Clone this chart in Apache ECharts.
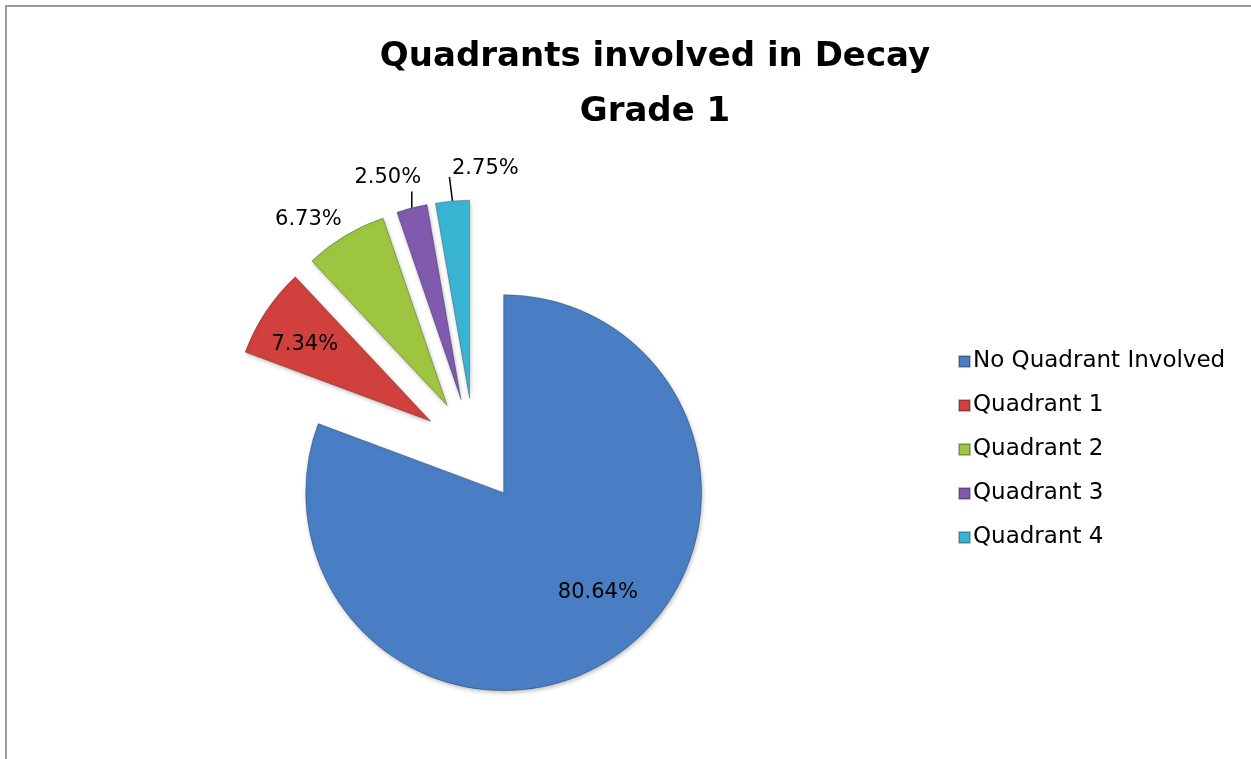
<!DOCTYPE html>
<html>
<head>
<meta charset="utf-8">
<script src="https://cdn.jsdelivr.net/npm/echarts@6/dist/echarts.min.js"></script>
<style>
  html, body { margin: 0; padding: 0; background: #fff; }
  #main { width: 1251px; height: 759px; }
</style>
</head>
<body>
<div id="main"></div>
<script>
  // 数据
  const categories = ['No Quadrant Involved', 'Quadrant 1', 'Quadrant 2', 'Quadrant 3', 'Quadrant 4'];
  const values = [80.64, 7.34, 6.73, 2.50, 2.75];
  const colors = ['#4A7EC4', '#D0403C', '#9DC53F', '#7F5AAE', '#39B5D3'];
  // which labels sit inside the slice
  const insideLabel = [true, true, false, false, false];
  const showLine = [false, false, false, true, true];
  // nudges of each label from where echarts puts it
  const labelShift = [[36, 16], [-41, -20], [30, -15], [60, -28], [73, -12]];
  // leader line: how far below label centre it stops, and sideways lean
  const lineStop = [0, 0, 0, 14, 8];
  const lineLean = [0, 0, 0, 0, -3];

  const chart = echarts.init(document.getElementById('main'));
  chart.setOption({
    title: {
      text: 'Quadrants involved in Decay\nGrade 1',
      left: 650,
      top: 25,
      textAlign: 'center',
      textStyle: {
        fontFamily: 'DejaVu Sans',
        fontSize: 34,
        fontWeight: 'bold',
        lineHeight: 55,
        color: '#000'
      }
    },
    legend: {
      orient: 'vertical',
      left: 958,
      top: 350,
      padding: 0,
      itemWidth: 11,
      itemHeight: 11,
      itemGap: 21,
      icon: 'rect',
      selectedMode: false,
      data: categories,
      textStyle: {
        fontFamily: 'DejaVu Sans',
        fontSize: 23,
        lineHeight: 23,
        color: '#000',
        padding: [0, 0, 0, -2]
      }
    },
    graphic: [{
      type: 'rect',
      shape: {x: 6, y: 6, width: 1300, height: 800},
      style: {fill: 'none', stroke: '#9a9a9a', lineWidth: 2},
      silent: true
    }],
    series: [{
      type: 'pie',
      center: [474, 450],
      radius: 198,
      startAngle: 90,
      clockwise: true,
      selectedMode: 'multiple',
      selectedOffset: 52,
      animation: false,
      emphasis: {disabled: true},
      label: {
        fontFamily: 'DejaVu Sans',
        fontSize: 21,
        color: '#000',
        formatter: p => p.value.toFixed(2) + '%'
      },
      labelLine: {
        length: 20,
        length2: 0,
        lineStyle: {color: '#000', width: 1.5}
      },
      labelLayout: function (p) {
        const i = p.dataIndex;
        const s = labelShift[i];
        const out = {dx: s[0], dy: s[1]};
        if (showLine[i] && p.labelLinePoints) {
          const start = p.labelLinePoints[0];
          const cy = p.labelRect.y + p.labelRect.height / 2 + s[1];
          out.labelLinePoints = [start, [start[0] + lineLean[i], cy + lineStop[i]]];
        }
        return out;
      },
      data: categories.map((name, i) => ({
        name: name,
        value: values[i],
        selected: true,
        itemStyle: {
          color: colors[i],
          borderColor: 'rgba(0,0,0,0.25)',
          borderWidth: 1,
          shadowColor: 'rgba(0,0,0,0.25)',
          shadowBlur: 4,
          shadowOffsetX: 1,
          shadowOffsetY: 2
        },
        label: {position: insideLabel[i] ? 'inside' : 'outside'},
        labelLine: {show: showLine[i]}
      }))
    }]
  });
</script>
</body>
</html>
